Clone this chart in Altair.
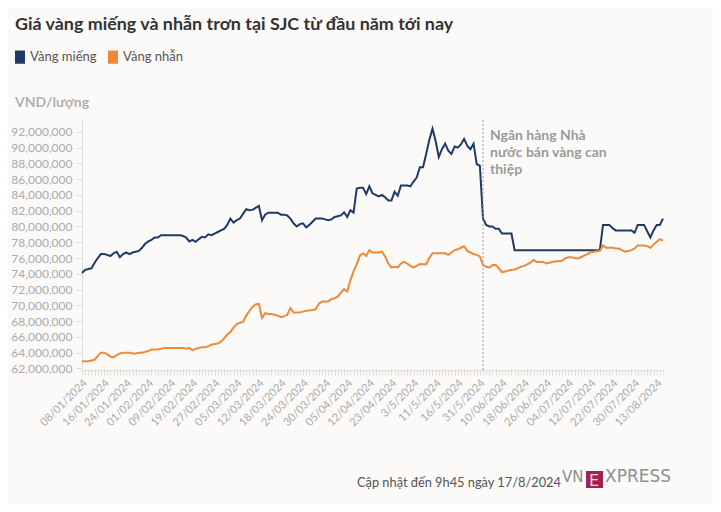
import json
import altair as alt
import pandas as pd

# ---------------- data (triệu VND / lượng) ----------------
series_names = ["Vàng miếng", "Vàng nhẫn"]

vang_mieng = [
    74.1, 74.5, 74.6, 74.7, 75.4, 76.0, 76.5, 76.5, 76.4, 76.25,
    76.6, 76.8, 76.1, 76.5, 76.7, 76.5, 76.7, 76.8, 76.9, 77.3,
    77.8, 78.1, 78.3, 78.6, 78.6, 78.9, 78.9, 78.9, 78.9, 78.9,
    78.9, 78.9, 78.8, 78.6, 78.1, 78.3, 78.05, 78.4, 78.7, 78.6,
    79.0, 78.9, 79.1, 79.3, 79.5, 79.7, 80.2, 81.0, 80.5, 80.8,
    81.0, 81.6, 82.2, 82.05, 82.1, 82.35, 82.6, 80.8, 81.5, 81.75,
    81.75, 81.75, 81.75, 81.5, 81.5, 81.4, 81.0, 80.4, 80.0, 80.3,
    80.4, 79.9, 80.2, 80.6, 81.0, 81.0, 81.0, 80.9, 80.8, 80.9,
    81.2, 81.3, 81.4, 81.8, 81.2, 82.05, 81.75, 84.8, 84.9, 84.9,
    84.1, 85.1, 84.2, 84.0, 83.8, 84.0, 83.7, 83.3, 83.3, 84.4,
    83.9, 85.2, 85.2, 85.2, 85.1, 85.7, 86.2, 87.5, 87.5, 89.2,
    91.0, 92.4, 90.8, 88.8, 89.8, 90.5, 89.6, 89.2, 90.15, 90.0,
    90.4, 91.1, 90.25, 89.8, 90.5, 87.9, 87.7, 81.0, 80.2, 80.0,
    80.0, 79.7, 79.7, 79.1, 79.1, 79.1, 79.1, 77.0, 77.0, 77.0,
    77.0, 77.0, 77.0, 77.0, 77.0, 77.0, 77.0, 77.0, 77.0, 77.0,
    77.0, 77.0, 77.0, 77.0, 77.0, 77.0, 77.0, 77.0, 77.0, 77.0,
    77.0, 77.0, 77.0, 77.0, 77.0, 80.2, 80.2, 80.2, 79.8, 79.5,
    79.5, 79.5, 79.5, 79.5, 79.5, 79.2, 80.2, 80.2, 80.2, 79.4,
    78.6, 79.5, 80.2, 80.2, 81.0,
]

vang_nhan = [
    62.9, 62.9, 62.9, 63.0, 63.1, 63.6, 64.0, 64.0, 63.8, 63.5,
    63.4, 63.7, 63.9, 64.0, 64.0, 64.0, 63.9, 63.9, 64.0, 64.0,
    64.1, 64.2, 64.4, 64.4, 64.4, 64.5, 64.6, 64.6, 64.6, 64.6,
    64.6, 64.6, 64.6, 64.5, 64.6, 64.3, 64.5, 64.6, 64.7, 64.7,
    64.8, 65.0, 65.1, 65.15, 65.4, 65.8, 66.3, 66.6, 67.2, 67.6,
    67.8, 67.9, 68.7, 69.3, 69.8, 70.1, 70.2, 68.4, 69.0, 68.9,
    68.9, 68.8, 68.7, 68.5, 68.6, 68.8, 69.65, 69.1, 69.1, 69.1,
    69.2, 69.3, 69.35, 69.4, 69.5, 70.2, 70.5, 70.5, 70.5, 70.8,
    70.9, 71.1, 71.6, 72.05, 71.75, 73.2, 74.3, 75.2, 76.3, 76.6,
    76.25, 77.0, 76.7, 76.7, 76.7, 76.8, 76.2, 75.3, 74.8, 74.9,
    74.8, 75.3, 75.5, 75.3, 75.0, 74.8, 75.0, 75.25, 75.2, 75.2,
    76.0, 76.6, 76.6, 76.6, 76.6, 76.6, 76.4, 76.7, 77.0, 77.1,
    77.3, 77.5, 76.9, 76.7, 76.5, 76.4, 76.2, 75.1, 74.9, 74.8,
    75.1, 75.1, 74.7, 74.2, 74.3, 74.4, 74.5, 74.55, 74.7, 74.9,
    75.0, 75.2, 75.4, 75.75, 75.5, 75.5, 75.5, 75.3, 75.4, 75.5,
    75.6, 75.6, 75.65, 75.95, 76.1, 76.1, 76.0, 75.95, 76.1, 76.3,
    76.5, 76.7, 76.8, 76.85, 76.9, 77.6, 77.3, 77.3, 77.3, 77.2,
    77.2, 77.0, 76.8, 76.9, 77.0, 77.2, 77.6, 77.6, 77.6, 77.5,
    77.3, 77.7, 78.05, 78.4, 78.2,
]

date_labels = [
    "08/01/2024", "16/01/2024", "24/01/2024", "01/02/2024", "09/02/2024",
    "19/02/2024", "27/02/2024", "05/03/2024", "12/03/2024", "18/03/2024",
    "24/03/2024", "30/03/2024", "05/04/2024", "12/04/2024", "23/04/2024",
    "3/5/2024", "11/5/2024", "16/5/2024", "31/5/2024", "10/06/2024",
    "18/06/2024", "26/06/2024", "04/07/2024", "12/07/2024", "22/07/2024",
    "30/07/2024", "13/08/2024",
]
LABEL_START = 1
LABEL_STEP = 7
event_index = LABEL_START + LABEL_STEP * date_labels.index("31/5/2024")

y_ticks = [v * 1_000_000 for v in range(62, 93, 2)]

# ---------------- styling ----------------
FONT = "Lato"
BLUE = "#1f3a66"
ORANGE = "#ee8a38"
BG = "#fbfaf8"
AXIS_TXT = "#ababab"
AXIS_LINE = "#dedede"

n = len(vang_mieng)
rows = []
for i, v in enumerate(vang_mieng):
    rows.append({"idx": i, "gia": v * 1_000_000, "loai": series_names[0]})
for i, v in enumerate(vang_nhan):
    rows.append({"idx": i, "gia": v * 1_000_000, "loai": series_names[1]})
df = pd.DataFrame(rows)

label_expr = (
    f"(datum.value >= {LABEL_START} && (datum.value - {LABEL_START}) % {LABEL_STEP} == 0) ? "
    f"{json.dumps(date_labels, ensure_ascii=False)}[(datum.value - {LABEL_START}) / {LABEL_STEP}] : ''"
)

x_axis = alt.Axis(
    values=list(range(n)), labelExpr=label_expr, labelAngle=-45,
    labelAlign="right", labelBaseline="middle",
    labelFont=FONT, labelFontSize=11, labelColor=AXIS_TXT,
    labelOverlap=False, labelFlush=False, labelBound=False, labelPadding=6,
    tickColor=AXIS_LINE, tickSize=5, domainColor=AXIS_LINE, grid=False, title=None,
)
x_scale = alt.Scale(domain=[0, n - 1], nice=False, zero=False)

y_enc = alt.Y(
    "gia:Q",
    scale=alt.Scale(domain=[61.8e6, 93.5e6], nice=False, zero=False),
    axis=alt.Axis(
        values=y_ticks, format=",d", labelFont=FONT, labelFontSize=12,
        labelColor=AXIS_TXT, tickColor=AXIS_LINE, tickSize=6, labelPadding=4,
        domainColor=AXIS_LINE, grid=False, title=None,
    ),
)

color_enc = alt.Color(
    "loai:N",
    scale=alt.Scale(domain=series_names, range=[BLUE, ORANGE]),
    legend=alt.Legend(
        title=None, orient="none", legendX=-69, legendY=-70, direction="horizontal",
        symbolType="M-0.7,-1H0.7V1H-0.7Z", symbolSize=130, symbolStrokeWidth=0,
        symbolOpacity=1,
        labelFont=FONT, labelFontSize=13, labelColor="#555555", labelOffset=3,
        columnPadding=8, padding=0,
    ),
)

# invisible filled layer that provides filled legend swatches
swatch = alt.Chart(df).mark_square(size=0, filled=True, opacity=1).encode(
    x=alt.X("idx:Q", scale=x_scale, axis=x_axis),
    y=y_enc,
    color=color_enc,
)

lines = alt.Chart(df).mark_line().encode(
    x=alt.X("idx:Q", scale=x_scale, axis=x_axis),
    y=y_enc,
    color=color_enc,
    order="idx:Q",
)

rule = alt.Chart(pd.DataFrame({"idx": [event_index]})).mark_rule(
    color="#9a9a9a", strokeDash=[2, 2], strokeWidth=1
).encode(x=alt.X("idx:Q", scale=x_scale, axis=x_axis))


def txt(text, x, y, size, color, weight="normal", font=FONT):
    return alt.Chart(pd.DataFrame({"t": [text]})).mark_text(
        align="left", baseline="alphabetic", fontSize=size, fontWeight=weight,
        color=color, font=font,
    ).encode(x=alt.value(x), y=alt.value(y), text="t")


title = txt("Giá vàng miếng và nhẫn trơn tại SJC từ đầu năm tới nay", -67, -90, 17.9, "#333333", "bold")
unit = txt("VND/lượng", -67, -13, 14, "#b0b0b0", "bold")
note = alt.Chart(pd.DataFrame({"t": [["Ngân hàng Nhà", "nước bán vàng can", "thiệp"]]})).mark_text(
    align="left", baseline="alphabetic", fontSize=14, fontWeight="bold", color="#9a9a9a",
    font=FONT, lineHeight=17,
).encode(x=alt.value(408), y=alt.value(20), text="t")
footer = txt("Cập nhật đến 9h45 ngày 17/8/2024", 275, 367, 12.8, "#555555")
logo_vn = txt("VN", 480, 362, 15, "#8f8f8f", font="DejaVu Sans")
logo_box = alt.Chart(pd.DataFrame({"a": [0]})).mark_rect(color="#a3204f").encode(
    x=alt.value(504), x2=alt.value(521), y=alt.value(351), y2=alt.value(368)
)
logo_e = txt("E", 507, 366, 16, "#f3d6df", font="DejaVu Sans")
logo_x = txt("XPRESS", 523, 362, 17, "#8f8f8f", font="DejaVu Sans")

chart = alt.layer(
    swatch, lines, rule, title, unit, note, footer, logo_vn, logo_box, logo_e, logo_x
).properties(
    width=581, height=250,
    autosize=alt.AutoSizeParams(type="none"),
    padding={"left": 74, "top": 112, "right": 50, "bottom": 134},
).configure(background=BG).configure_view(stroke=None).configure_line(strokeWidth=2)

chart.save("out.html", embed_options={"renderer": "svg", "actions": False})
